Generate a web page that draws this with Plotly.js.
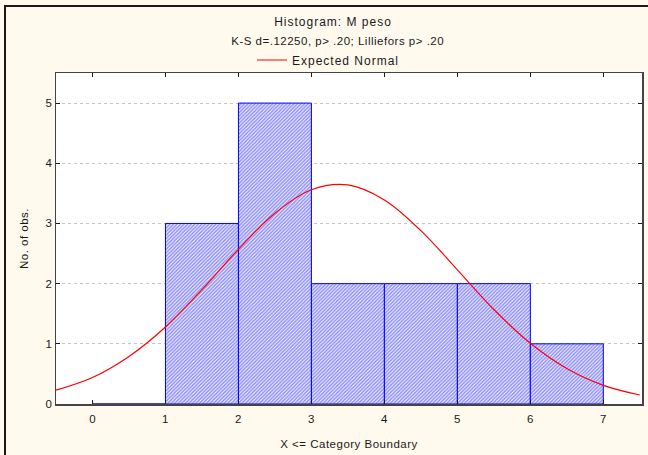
<!DOCTYPE html>
<html>
<head>
<meta charset="utf-8">
<script src="https://cdn.plot.ly/plotly-3.0.1.min.js"></script>
<style>
  html, body { margin: 0; padding: 0; background: #FFF9EE; overflow: hidden; }
  #frame { position: absolute; left: 4px; top: 5px; width: 660px; height: 470px;
           border-left: 2px solid #1a1a1a; border-top: 2px solid #1a1a1a; box-sizing: border-box; }
  #chart { position: absolute; left: 0; top: 0; width: 648px; height: 455px; }
  /* wide, loosely spaced lettering */
  #chart .gtitle, #chart .legendtext { letter-spacing: 1px; }
  #chart .annotation-text { letter-spacing: 0.5px; }
  #chart .xtitle, #chart .ytitle { letter-spacing: 0.5px; }
  #chart .xtick text, #chart .ytick text { letter-spacing: 0.3px; }
</style>
</head>
<body>
<div id="frame"></div>
<div id="chart"></div>
<script>
// Histogram bins: upper category boundary and observed counts
var binUpper = [1, 2, 3, 4, 5, 6, 7];
var binCounts = [0, 3, 5, 2, 2, 2, 1];

// Expected normal curve (counts per unit bin), sampled along the x axis
var normalX = [-0.5, 0, 0.5, 1, 1.5, 2, 2.5, 3, 3.5, 4, 4.5, 5, 5.5, 6, 6.5, 7, 7.5];
var normalY = [0.23, 0.44, 0.79, 1.28, 1.90, 2.57, 3.17, 3.56, 3.64, 3.39, 2.88, 2.23, 1.57, 1.01, 0.59, 0.31, 0.15];

// Axis ticks
var xTicks = [0, 1, 2, 3, 4, 5, 6, 7];
var yTicks = [0, 1, 2, 3, 4, 5];

var titleLine1 = 'Histogram: M peso';
var titleLine2 = 'K-S d=.12250, p> .20; Lilliefors p> .20';

var binCenters = binUpper.map(function (u) { return u - 0.5; });

var family = 'Liberation Sans, Arial, sans-serif';
var font = { family: family, size: 11.5, color: '#1a1a1a' };
var headFont = { family: family, size: 12, color: '#1a1a1a' };

var traces = [
  {
    type: 'bar',
    x: binCenters,
    y: binCounts,
    width: 1,
    showlegend: false,
    hoverinfo: 'skip',
    marker: {
      color: '#FFFFFF',
      line: { color: '#0000FF', width: 1 },
      pattern: { shape: '/', fgcolor: '#2020FF', bgcolor: '#FFFFFF', size: 2.5, solidity: 0.65, fillmode: 'overlay' }
    }
  },
  {
    type: 'scatter',
    mode: 'lines',
    name: 'Expected Normal',
    x: normalX,
    y: normalY,
    line: { color: '#FF0000', width: 1.2, shape: 'spline', smoothing: 1 }
  }
];

var axisCommon = {
  showline: true,
  linecolor: '#444444',
  linewidth: 1.5,
  mirror: 'ticks',
  ticks: 'inside',
  ticklen: 4,
  tickcolor: '#1a1a1a',
  tickwidth: 1,
  zeroline: false,
  tickfont: font
};

var layout = {
  width: 648,
  height: 455,
  paper_bgcolor: 'rgba(0,0,0,0)',
  plot_bgcolor: '#FFFFFF',
  margin: { l: 56, r: 6, t: 73, b: 51 },
  font: font,
  bargap: 0,
  title: {
    text: titleLine1,
    font: headFont,
    x: 333 / 648,
    xanchor: 'center',
    xref: 'container',
    y: 1 - 22 / 455,
    yref: 'container',
    yanchor: 'middle'
  },
  annotations: [
    {
      text: titleLine2,
      showarrow: false,
      xref: 'paper', yref: 'paper',
      x: (337 - 56) / 586, y: (404 - 41) / 331,
      xanchor: 'center', yanchor: 'middle',
      font: font
    }
  ],
  showlegend: true,
  legend: {
    orientation: 'h',
    x: (252 - 56) / 586,
    xanchor: 'left',
    y: (404 - 60) / 331,
    yanchor: 'middle',
    bgcolor: 'rgba(0,0,0,0)',
    font: headFont,
    itemwidth: 30,
    entrywidth: 170,
    entrywidthmode: 'pixels'
  },
  xaxis: Object.assign({}, axisCommon, {
    range: [-0.5, 7.53],
    tickmode: 'array',
    tickvals: xTicks,
    ticktext: xTicks.map(String),
    ticklabelstandoff: 4,
    showgrid: false,
    title: { text: 'X <= Category Boundary', font: font, standoff: 15 }
  }),
  yaxis: Object.assign({}, axisCommon, {
    range: [0, 5.5],
    tickmode: 'array',
    tickvals: yTicks,
    ticktext: yTicks.map(String),
    showgrid: true,
    gridcolor: '#C4C4C4',
    gridwidth: 1,
    griddash: '3px,3px',
    title: { text: 'No. of obs.', font: font, standoff: 15 }
  })
};

Plotly.newPlot('chart', traces, layout, { displayModeBar: false, staticPlot: true });
</script>
</body>
</html>
